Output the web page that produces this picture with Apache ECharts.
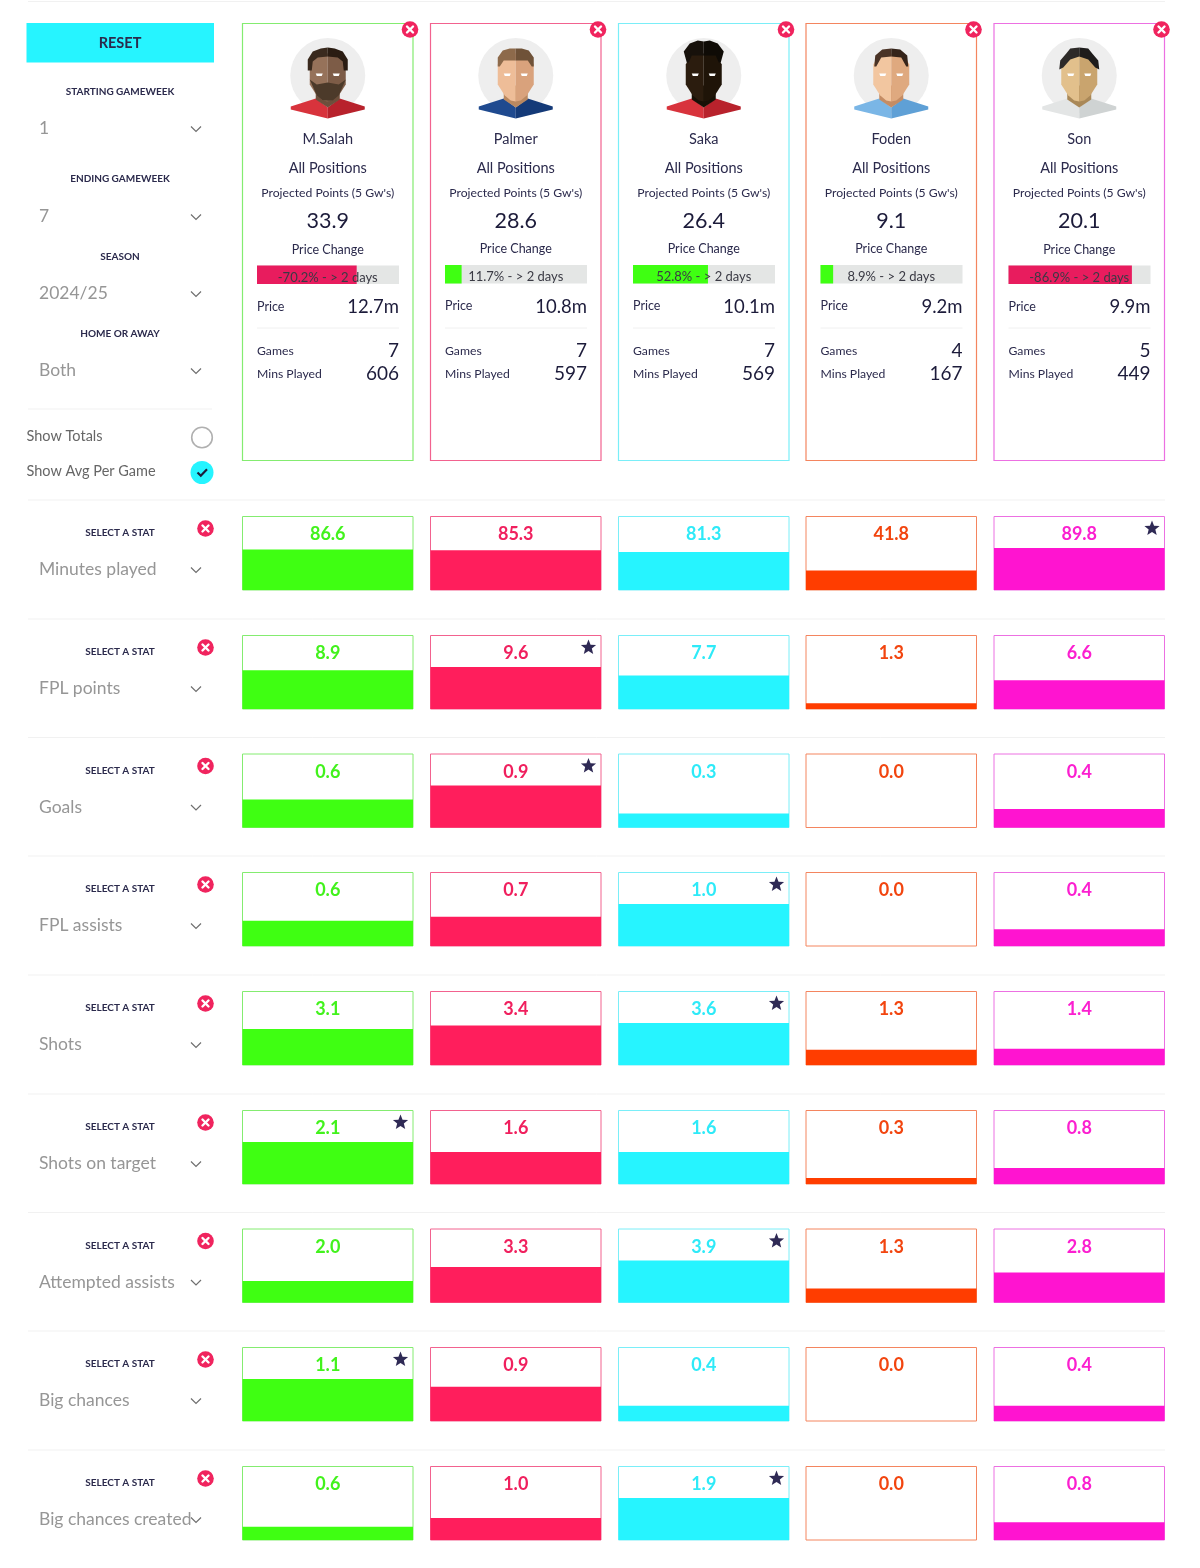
<!DOCTYPE html>
<html>
<head>
<meta charset="utf-8">
<title>Player comparison</title>
<script src="https://cdn.jsdelivr.net/npm/echarts@6/dist/echarts.min.js"></script>
<style>
    html, body { margin: 0; padding: 0; background: #fff; }
    #chart { width: 1200px; height: 1568px; }
</style>
</head>
<body>
<div id="chart"></div>
<script>
const players = ['M.Salah', 'Palmer', 'Saka', 'Foden', 'Son'];
const projectedPoints = ['33.9', '28.6', '26.4', '9.1', '20.1'];
const priceChange = [-70.2, 11.7, 52.8, 8.9, -86.9];
const prices = ['12.7m', '10.8m', '10.1m', '9.2m', '9.9m'];
const games = [7, 7, 7, 4, 5];
const minsPlayed = [606, 597, 569, 167, 449];

const statNames = ['Minutes played', 'FPL points', 'Goals', 'FPL assists', 'Shots',
    'Shots on target', 'Attempted assists', 'Big chances', 'Big chances created'];
const minutesPlayed = [86.6, 85.3, 81.3, 41.8, 89.8];
const fplPoints = [8.9, 9.6, 7.7, 1.3, 6.6];
const goals = [0.6, 0.9, 0.3, 0.0, 0.4];
const fplAssists = [0.6, 0.7, 1.0, 0.0, 0.4];
const shots = [3.1, 3.4, 3.6, 1.3, 1.4];
const shotsOnTarget = [2.1, 1.6, 1.6, 0.3, 0.8];
const attemptedAssists = [2.0, 3.3, 3.9, 1.3, 2.8];
const bigChances = [1.1, 0.9, 0.4, 0.0, 0.4];
const bigChancesCreated = [0.6, 1.0, 1.9, 0.0, 0.8];
const statRows = [minutesPlayed, fplPoints, goals, fplAssists, shots,
    shotsOnTarget, attemptedAssists, bigChances, bigChancesCreated];

const filters = [
    { label: 'STARTING GAMEWEEK', value: '1', labelY: 91.5, valueY: 128 },
    { label: 'ENDING GAMEWEEK', value: '7', labelY: 178.5, valueY: 216 },
    { label: 'SEASON', value: '2024/25', labelY: 256.5, valueY: 293 },
    { label: 'HOME OR AWAY', value: 'Both', labelY: 333.5, valueY: 370 },
];

const FONT = 'Lato, "Noto Sans", sans-serif';
const NAVY = '#2b2a4c';
const GREY = '#969696';
const CROSS_RED = '#f0245e';
const POS_BAR = '#3fff12';
const NEG_BAR = '#e81c5e';

const colLeft = [242.5, 430.5, 618.5, 806, 994];
const colWidth = 170.5;
const rowTop = [516.5, 635.5, 754, 872.5, 991.5, 1110.5, 1229, 1347.5, 1466.5];
const rowHeight = 73.5;
const barColors = ['#3fff12', '#ff1e5c', '#26f4ff', '#ff3d00', '#ff14d0'];
const textColors = ['#42f21c', '#f0205e', '#2eeaf8', '#f2450f', '#fb1fd0'];
const borderColors = ['#84ec70', '#f2628f', '#7aeef8', '#f4855f', '#ec70e2'];
const cardNudge = [1, 0, 0, 0, 1];

// left half of each hairline, mirrored for the right half
const hairLeft = [
    [[-20, -5], [-20, -16], [-15, -24], [-7, -27], [0, -28], [0, -19], [-10, -18], [-15, -14], [-16, -5]],
    [[-18, -9], [-18, -18], [-13, -25], [-6, -27], [0, -27], [0, -15], [-12, -15], [-16, -9]],
    [[-17, -13], [-20, -24], [-14, -32], [-6, -35], [0, -34], [0, -20], [-12, -20], [-15, -13]],
    [[-17, -9], [-16, -20], [-9, -26], [0, -27], [0, -19], [-10, -18], [-15, -9]],
    [[-20, -6], [-19, -15], [-13, -22], [-9, -27], [0, -28], [0, -19], [-9, -16], [-16, -8]],
];
const looks = [
    { skin: '#96725a', shade: '#7d5c47', neck: '#6d4f3c', hair: '#3a2a1e', hairShade: '#2a1c12', shirt: '#d8333c', shirtShade: '#b8222c', beard: '#4c3a2a' },
    { skin: '#eebd98', shade: '#d9a27c', neck: '#b98860', hair: '#8d6a4b', hairShade: '#6f5238', shirt: '#1f4a8f', shirtShade: '#143a78', beard: null },
    { skin: '#2b1c0e', shade: '#1f1408', neck: '#171006', hair: '#17110b', hairShade: '#0f0b06', shirt: '#d8333c', shirtShade: '#b8222c', beard: null },
    { skin: '#f2c6a0', shade: '#dfa97f', neck: '#c48c64', hair: '#4a3326', hairShade: '#35241a', shirt: '#7ab6e6', shirtShade: '#5fa0d6', beard: null },
    { skin: '#e2c08c', shade: '#c9a46e', neck: '#a98858', hair: '#2d2a28', hairShade: '#1e1c1b', shirt: '#e3e5e5', shirtShade: '#cfd3d3', beard: null },
];

const text = (x, y, str, size, color, align, weight) => ({
    type: 'text',
    z: 100,
    silent: true,
    style: {
        x, y, text: String(str),
        fontFamily: FONT,
        fontSize: size,
        fontWeight: weight || 'normal',
        fill: color,
        textAlign: align || 'center',
        textVerticalAlign: 'middle',
    },
});

const hLine = (x1, x2, y, color) => ({
    type: 'line',
    z: 1,
    silent: true,
    shape: { x1, y1: y, x2, y2: y },
    style: { stroke: color || '#f1f1f1', lineWidth: 1 },
});

const polygon = (cx, cy, points, fill) => ({
    type: 'polygon',
    z: 101,
    silent: true,
    shape: { points: points.map(([px, py]) => [cx + px, cy + py]) },
    style: { fill },
});

const chevron = (x, y) => ({
    type: 'polyline',
    z: 100,
    silent: true,
    shape: { points: [[x - 5, y - 2.5], [x, y + 2.5], [x + 5, y - 2.5]] },
    style: { stroke: '#6f6f6f', lineWidth: 1.2, fill: 'none' },
});

const closeButton = (x, y) => [
    { type: 'circle', z: 102, silent: true, shape: { cx: x, cy: y, r: 8.3 }, style: { fill: CROSS_RED } },
    { type: 'line', z: 103, silent: true, shape: { x1: x - 3, y1: y - 3, x2: x + 3, y2: y + 3 }, style: { stroke: '#fff', lineWidth: 2.4, lineCap: 'round' } },
    { type: 'line', z: 103, silent: true, shape: { x1: x + 3, y1: y - 3, x2: x - 3, y2: y + 3 }, style: { stroke: '#fff', lineWidth: 2.4, lineCap: 'round' } },
];

const star = (x, y) => {
    const pts = [];
    for (let i = 0; i < 10; i++) {
        const r = i % 2 ? 3.5 : 8;
        const a = -Math.PI / 2 + (i * Math.PI) / 5;
        pts.push([r * Math.cos(a), r * Math.sin(a)]);
    }
    return polygon(x, y, pts, '#2f2a55');
};

const portrait = (cx, cy, look, i) => {
    const els = [{ type: 'circle', z: 100, silent: true, shape: { cx, cy, r: 37.5 }, style: { fill: '#eeeeee' } }];
    // shirt
    els.push(polygon(cx, cy, [[-37, 31], [-12, 23], [0, 32], [0, 43], [-37, 34]], look.shirt));
    els.push(polygon(cx, cy, [[37, 31], [12, 23], [0, 32], [0, 43], [37, 34]], look.shirtShade));
    // neck and head, split down the middle
    els.push(polygon(cx, cy, [[-12, 10], [-12, 24], [0, 32], [12, 24], [12, 10]], look.neck));
    els.push(polygon(cx, cy, [[-12, -22], [-18, -11], [-18, 9], [-11, 20], [-5, 25], [0, 26], [0, -22]], look.skin));
    els.push(polygon(cx, cy, [[12, -22], [18, -11], [18, 9], [11, 20], [5, 25], [0, 26], [0, -22]], look.shade));
    if (look.beard) {
        els.push(polygon(cx, cy, [[-18, 4], [-11, 9], [0, 7], [11, 9], [18, 4], [11, 20], [5, 25], [-5, 25], [-11, 20]], look.beard));
    }
    // hair
    const left = hairLeft[i];
    els.push(polygon(cx, cy, left, look.hair));
    els.push(polygon(cx, cy, left.map(([px, py]) => [-px, py]), look.hairShade));
    // eyes
    els.push(polygon(cx, cy, [[-12, -2], [-5, -2], [-6, 0.5], [-11, 0.5]], '#ffffff'));
    els.push(polygon(cx, cy, [[12, -2], [5, -2], [6, 0.5], [11, 0.5]], '#ffffff'));
    return els;
};

const grids = [];
const xAxes = [];
const yAxes = [];
const series = [];
const graphics = [];

const addCell = (grid, xAxis, yAxis, data, barSeries) => {
    const idx = grids.length;
    grids.push(grid);
    xAxes.push({ ...xAxis, gridIndex: idx, show: false });
    yAxes.push({ ...yAxis, gridIndex: idx, show: false });
    series.push({ type: 'bar', xAxisIndex: idx, yAxisIndex: idx, data, silent: true, ...barSeries });
};

// stat rows
statRows.forEach((values, r) => {
    const top = rowTop[r];
    const best = values.indexOf(Math.max(...values));
    const axisMax = Math.max(...values) / 0.57;

    graphics.push(hLine(28, 1165, top - 16.5));
    graphics.push(text(120, top + 16.5, 'SELECT A STAT', 10, NAVY, 'center', 'bold'));
    graphics.push(...closeButton(205.5, top + 12));
    graphics.push(text(39, top + 53, statNames[r], 17.5, GREY, 'left'));
    graphics.push(chevron(196, top + 53.5));

    values.forEach((v, c) => {
        addCell(
            { left: colLeft[c], top, width: colWidth, height: rowHeight, show: true, borderColor: borderColors[c], borderWidth: 1, backgroundColor: '#fff' },
            { type: 'category', data: [statNames[r]] },
            { type: 'value', min: 0, max: axisMax },
            [v],
            { barWidth: '100%', itemStyle: { color: barColors[c] } }
        );
        graphics.push(text(colLeft[c] + colWidth / 2, top + 18, v.toFixed(1), 18, textColors[c], 'center', 'bold'));
        if (c === best) {
            graphics.push(star(colLeft[c] + colWidth - 12.5, top + 12));
        }
    });
});

// player cards
players.forEach((name, c) => {
    const left = colLeft[c];
    const mid = left + colWidth / 2;
    const inL = left + 14.5;
    const inR = left + 156.5;
    const n = cardNudge[c];

    graphics.push({
        type: 'rect',
        z: 1,
        silent: true,
        shape: { x: left, y: 23.5, width: colWidth, height: 437 },
        style: { fill: 'none', stroke: borderColors[c], lineWidth: 1.2 },
    });
    graphics.push(...closeButton(left + colWidth - 3, 29.5));
    graphics.push(...portrait(mid, 75.5, looks[c], c));
    graphics.push(text(mid, 139, name, 14.5, NAVY));
    graphics.push(text(mid, 168, 'All Positions', 14.5, NAVY));
    graphics.push(text(mid, 193.5, "Projected Points (5 Gw's)", 12.2, NAVY));
    graphics.push(text(mid, 221.5, projectedPoints[c], 21.5, '#1c1b3a'));
    graphics.push(text(mid, 249 + n, 'Price Change', 12.5, NAVY));

    const pc = priceChange[c];
    addCell(
        { left: inL, top: 265 + n * 0.4, width: 142, height: 18.5 },
        { type: 'value', min: 0, max: 100 },
        { type: 'category', data: ['Price Change'] },
        [Math.abs(pc)],
        {
            barWidth: '100%',
            itemStyle: { color: pc < 0 ? NEG_BAR : POS_BAR },
            showBackground: true,
            backgroundStyle: { color: '#e4e6e5' },
        }
    );
    graphics.push(text(mid, 277 + n * 0.5, pc.toFixed(1) + '% - > 2 days', 13, '#3a3a44'));

    graphics.push(text(inL, 306 + n * 0.5, 'Price', 12.5, NAVY, 'left'));
    graphics.push(text(inR, 307, prices[c], 18.5, '#1c1b3a', 'right'));
    graphics.push(hLine(inL, inR, 328, '#f0f0f0'));
    graphics.push(text(inL, 351, 'Games', 12.2, NAVY, 'left'));
    graphics.push(text(inR, 351, games[c], 19, '#1c1b3a', 'right'));
    graphics.push(text(inL, 374, 'Mins Played', 12.2, NAVY, 'left'));
    graphics.push(text(inR, 374, minsPlayed[c], 19, '#1c1b3a', 'right'));
});

// filter column
graphics.push(hLine(28, 1165, 1.5));
graphics.push({
    type: 'rect',
    z: 1,
    silent: true,
    shape: { x: 26.5, y: 23, width: 187.5, height: 39.5 },
    style: { fill: '#26f4ff' },
});
graphics.push(text(120, 43, 'RESET', 14.5, NAVY, 'center', 'bold'));
filters.forEach((f) => {
    graphics.push(text(120, f.labelY, f.label, 10, NAVY, 'center', 'bold'));
    graphics.push(text(39, f.valueY, f.value, 17.5, GREY, 'left'));
    graphics.push(chevron(196, f.valueY + 1));
});
graphics.push(hLine(28, 212, 409));
graphics.push(text(26.5, 436, 'Show Totals', 14.5, '#666666', 'left'));
graphics.push(text(26.5, 471, 'Show Avg Per Game', 14.5, '#666666', 'left'));
graphics.push({ type: 'circle', z: 100, silent: true, shape: { cx: 202, cy: 437.5, r: 10.3 }, style: { fill: '#fff', stroke: '#b0b0b0', lineWidth: 1.6 } });
graphics.push({ type: 'circle', z: 100, silent: true, shape: { cx: 202, cy: 472.5, r: 11.5 }, style: { fill: '#26f4ff' } });
graphics.push({
    type: 'polyline',
    z: 101,
    silent: true,
    shape: { points: [[197.5, 472.5], [200.8, 475.8], [207, 469.3]] },
    style: { stroke: '#1c1b3a', lineWidth: 2.2, fill: 'none' },
});

const chart = echarts.init(document.getElementById('chart'), null, { renderer: 'canvas' });
chart.setOption({
    animation: false,
    backgroundColor: '#ffffff',
    textStyle: { fontFamily: FONT },
    tooltip: { show: false },
    grid: grids,
    xAxis: xAxes,
    yAxis: yAxes,
    series,
    graphic: { elements: graphics },
});
</script>
</body>
</html>
